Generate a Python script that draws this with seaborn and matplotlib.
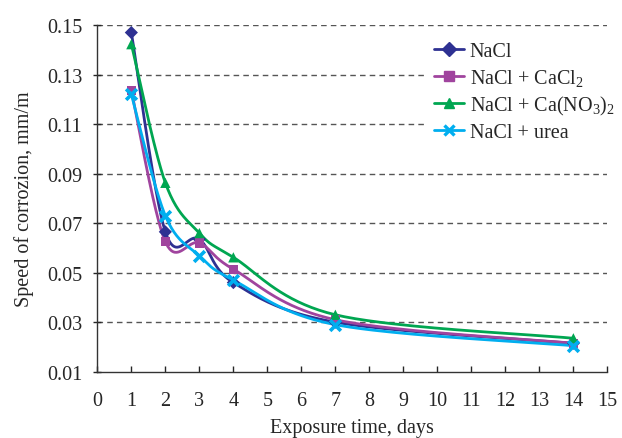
import numpy as np
import pandas as pd
import seaborn as sns
import matplotlib
matplotlib.use("Agg")
import matplotlib.pyplot as plt
from matplotlib.lines import Line2D

# data
days = [1, 2, 3, 4, 7, 14]
nacl = [0.147, 0.0665, 0.0635, 0.046, 0.030, 0.0215]
nacl_cacl2 = [0.1236, 0.0625, 0.062, 0.0514, 0.031, 0.0215]
nacl_cano3 = [0.1423, 0.0863, 0.066, 0.0562, 0.033, 0.0235]
nacl_urea = [0.122, 0.073, 0.0568, 0.047, 0.029, 0.0205]

names = ["NaCl", "NaCl + CaCl$_2$", "NaCl + Ca(NO$_3$)$_2$", "NaCl + urea"]
series = [nacl, nacl_cacl2, nacl_cano3, nacl_urea]
colors = ["#2E3192", "#A0449E", "#00A651", "#00AEEF"]
markers = ["D", "s", "^", "x"]
msizes = [45, 45, 55, 60]

sns.set_style("white")
plt.rcParams["font.family"] = ["Liberation Serif", "DejaVu Serif"]
plt.rcParams["mathtext.fontset"] = "custom"
plt.rcParams["mathtext.rm"] = "Liberation Serif"
plt.rcParams["mathtext.it"] = "Liberation Serif"

fig = plt.figure(figsize=(6.22, 4.39), dpi=100)
ax = fig.add_axes([0.1565, 0.151, 0.82, 0.7895])

# excel-like smoothed line (bezier through the points, in screen proportions)
sx, sy = 34.0, 2464.0


def smooth(xs, ys, n=40):
    p = np.column_stack([np.array(xs) * sx, np.array(ys) * sy])
    pts = []
    for i in range(len(p) - 1):
        p0 = p[i - 1] if i > 0 else p[i]
        p3 = p[i + 2] if i + 2 < len(p) else p[i + 1]
        b1 = p[i] + (p[i + 1] - p0) / 6
        b2 = p[i + 1] - (p3 - p[i]) / 6
        t = np.linspace(0, 1, n)[:, None]
        seg = ((1 - t) ** 3 * p[i] + 3 * (1 - t) ** 2 * t * b1
               + 3 * (1 - t) * t ** 2 * b2 + t ** 3 * p[i + 1])
        pts.append(seg)
    pts = np.vstack(pts)
    return pts[:, 0] / sx, pts[:, 1] / sy


rows = []
for name, vals in zip(names, series):
    cx, cy = smooth(days, vals)
    for a, b in zip(cx, cy):
        rows.append({"day": a, "speed": b, "group": name})
curve = pd.DataFrame(rows)

# gridlines
for yv in np.arange(0.03, 0.151, 0.02):
    ax.axhline(yv, color="#555555", ls=(0, (4, 3)), lw=1.0, zorder=0)

pal = dict(zip(names, colors))
sns.lineplot(data=curve, x="day", y="speed", hue="group", palette=pal,
             sort=False, estimator=None, units="group", lw=2.0,
             legend=False, ax=ax, zorder=3)
for name, vals, c, m, s in zip(names, series, colors, markers, msizes):
    if m == "x":
        sns.scatterplot(x=days, y=vals, color=c, marker=m, s=s, linewidth=2.6,
                        legend=False, ax=ax, zorder=4)
    else:
        sns.scatterplot(x=days, y=vals, color=c, marker=m, s=s,
                        edgecolor="none", legend=False, ax=ax, zorder=4)

ax.set_xlim(0, 15)
ax.set_ylim(0.01, 0.15)
ax.set_xticks(range(0, 16))
ax.set_yticks(np.arange(0.01, 0.151, 0.02))
ax.set_yticklabels([f"{v:.2f}" for v in np.arange(0.01, 0.151, 0.02)])
ax.tick_params(axis="y", direction="inout", length=6, width=1, labelsize=14.5, pad=8)
ax.tick_params(axis="x", direction="in", length=4, width=1, labelsize=14.5, pad=14)
ax.tick_params(left=True, bottom=True)
for s in ["top", "right"]:
    ax.spines[s].set_visible(False)
for s in ["left", "bottom"]:
    ax.spines[s].set_color("#333333")
    ax.spines[s].set_linewidth(1.0)

ax.set_xlabel("Exposure time, days", fontsize=14.5, labelpad=6)
ax.set_ylabel("Speed of corrozion, mm/m", fontsize=14.5, labelpad=9)

handles = [Line2D([0], [0], color=c, lw=2.0, marker=m, markersize=7.5,
                  markeredgecolor=c, markeredgewidth=2.4 if m == "x" else 1)
           for c, m in zip(colors, markers)]
leg = ax.legend(handles, names, loc="upper left", bbox_to_anchor=(0.645, 0.975),
                frameon=True, fontsize=14.5, handlelength=1.45, handletextpad=0.3,
                labelspacing=0.3, borderaxespad=0)
leg.get_frame().set_edgecolor("white")
leg.get_frame().set_facecolor("white")
leg.get_frame().set_alpha(1)
leg.set_zorder(5)

fig.savefig("out.png", dpi=100)
